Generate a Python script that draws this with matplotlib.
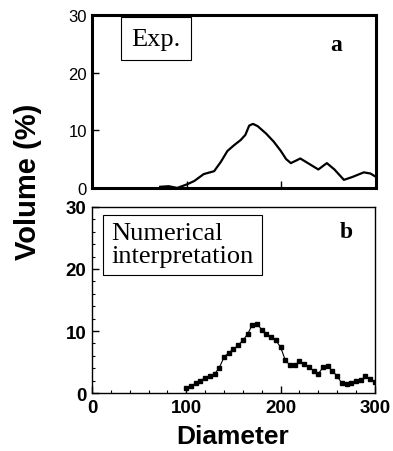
import matplotlib.pyplot as plt
from matplotlib.ticker import MultipleLocator

# panel a: measured distribution
exp_d = [72, 81, 90, 100, 108, 118, 129, 136, 143, 150, 157, 162, 166, 170, 175,
         184, 192, 199, 205, 210, 220, 229, 239, 248, 256, 266, 275, 287, 294, 300]
exp_v = [0.2, 0.3, 0.0, 0.6, 1.2, 2.4, 2.9, 4.5, 6.4, 7.4, 8.3, 9.2, 10.8, 11.1, 10.7,
         9.4, 8.0, 6.5, 5.0, 4.3, 5.1, 4.2, 3.2, 4.3, 3.2, 1.4, 1.9, 2.7, 2.5, 1.9]

# panel b: numerical interpretation
num_d = list(range(100, 301, 5))
num_v = [0.8, 1.1, 1.6, 2.0, 2.5, 2.8, 3.1, 4.1, 5.8, 6.5, 7.1, 7.7, 8.5, 9.5, 11.0,
         11.2, 10.2, 9.5, 9.0, 8.5, 7.4, 5.3, 4.5, 4.5, 5.1, 4.7, 4.2, 3.6, 3.1, 4.2,
         4.3, 3.6, 2.7, 1.6, 1.4, 1.7, 1.9, 2.1, 2.7, 2.3, 1.8]

fig = plt.figure(figsize=(3.93, 4.52), dpi=100)
ax1 = fig.add_axes([0.234, 0.582, 0.723, 0.383])
ax2 = fig.add_axes([0.234, 0.128, 0.720, 0.412])

# top panel
ax1.plot(exp_d, exp_v, color='black', lw=1.6)
ax1.set_xlim(0, 300)
ax1.set_ylim(0, 30)
ax1.set_yticks([0, 10, 20, 30])
ax1.set_xticks([0, 100, 200, 300])
ax1.set_xticklabels([])
ax1.tick_params(direction='in', length=5, width=1, top=False, right=False, labelsize=12)
for lab in ax1.get_yticklabels():
    lab.set_family('Liberation Sans')
for s in ax1.spines.values():
    s.set_linewidth(2.2)
ax1.text(0.225, 0.861, 'Exp.', transform=ax1.transAxes, family='Liberation Serif',
         fontsize=19, va='center', ha='center',
         bbox=dict(boxstyle='square,pad=0.4', fc='white', ec='black', lw=0.8))
ax1.text(0.86, 0.83, 'a', transform=ax1.transAxes, family='Liberation Serif',
         fontsize=17, fontweight='bold', va='center', ha='center')

# bottom panel
ax2.plot(num_d, num_v, color='black', lw=0.8, marker='s', ms=3.2)
ax2.set_xlim(0, 300)
ax2.set_ylim(0, 30)
ax2.set_yticks([0, 10, 20, 30])
ax2.set_xticks([0, 100, 200, 300])
ax2.xaxis.set_minor_locator(MultipleLocator(20))
ax2.yaxis.set_minor_locator(MultipleLocator(2))
ax2.tick_params(which='major', direction='in', length=5, width=1, top=False, right=False,
                labelsize=13.5, pad=4)
ax2.tick_params(which='minor', direction='in', length=2.5, width=0.8, top=False, right=False)
for lab in ax2.get_xticklabels() + ax2.get_yticklabels():
    lab.set_fontweight('bold')
    lab.set_family('Liberation Sans')
for s in ax2.spines.values():
    s.set_linewidth(1.0)
ax2.text(0.32, 0.796, 'Numerical\ninterpretation', transform=ax2.transAxes,
         family='Liberation Serif', fontsize=19, va='center', ha='center',
         multialignment='left', linespacing=1.05,
         bbox=dict(boxstyle='square,pad=0.3', fc='white', ec='black', lw=0.8))
ax2.text(0.90, 0.866, 'b', transform=ax2.transAxes, family='Liberation Serif',
         fontsize=17, fontweight='bold', va='center', ha='center')

fig.text(0.592, 0.033, 'Diameter', fontsize=19, fontweight='bold',
         family='Liberation Sans', ha='center', va='center')
fig.text(0.071, 0.597, 'Volume (%)', rotation=90, fontsize=21, fontweight='bold',
         family='Liberation Sans', ha='center', va='center')

plt.savefig('out.png', dpi=100)
